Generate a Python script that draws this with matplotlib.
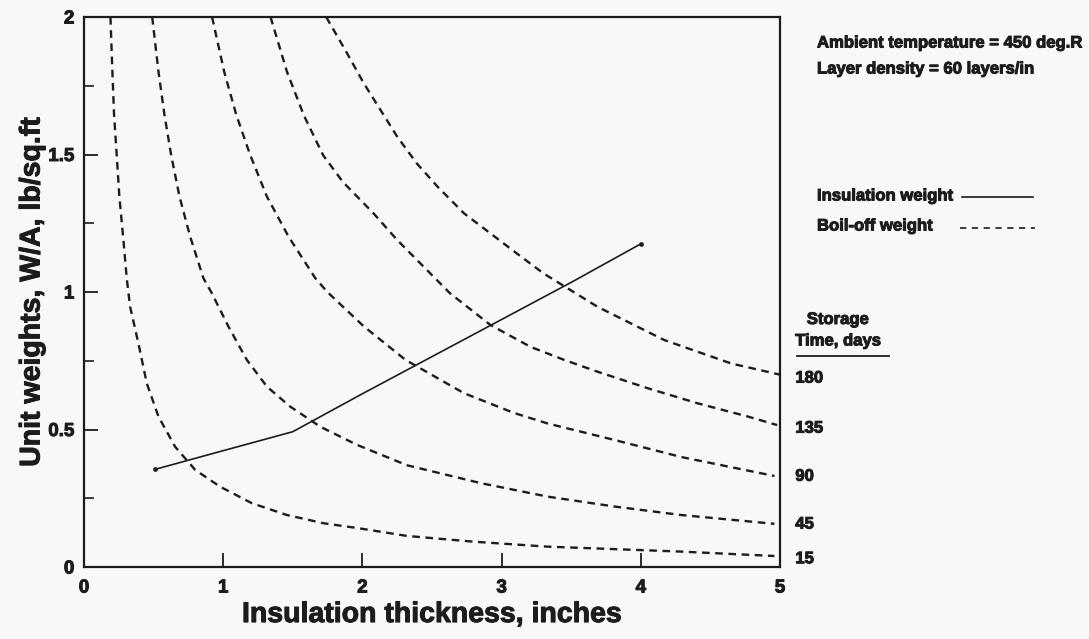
import matplotlib
matplotlib.use("Agg")
import matplotlib.pyplot as plt
from matplotlib.ticker import MultipleLocator, FuncFormatter
from matplotlib.lines import Line2D
import matplotlib.patheffects as pe

plt.rcParams['font.family'] = ['Liberation Sans', 'DejaVu Sans']
plt.rcParams['lines.scale_dashes'] = False

# Insulation weight (solid line)
ins_x = [0.51, 1.0, 1.5, 2.0, 2.5, 3.0, 3.5, 4.0]
ins_y = [0.355, 0.423, 0.492, 0.63, 0.765, 0.90, 1.035, 1.175]

# Boil-off weight curves, by storage time (days)
storage_days = [15, 45, 90, 135, 180]
boil_x = {
    15:  [0.19, 0.204, 0.216, 0.235, 0.254, 0.281, 0.307, 0.331, 0.391, 0.451,
          0.535, 0.655, 0.799, 0.978, 1.206, 1.458, 1.722, 1.973, 2.32, 2.8,
          3.33, 4.29, 4.96],
    45:  [0.49, 0.535, 0.578, 0.626, 0.686, 0.763, 0.858, 0.919, 1.038, 1.17,
          1.314, 1.482, 1.698, 1.962, 2.32, 2.85, 3.33, 3.81, 4.29, 4.96],
    90:  [0.92, 1.007, 1.094, 1.194, 1.314, 1.47, 1.662, 1.746, 2.01, 2.31,
          2.73, 3.09, 3.33, 3.81, 4.29, 4.96],
    135: [1.34, 1.458, 1.578, 1.717, 1.86, 2.08, 2.25, 2.44, 2.63, 2.92, 3.21,
          3.45, 3.69, 4.05, 4.41, 4.77, 4.98],
    180: [1.74, 1.89, 2.01, 2.13, 2.25, 2.39, 2.54, 2.73, 2.92, 3.11, 3.30,
          3.69, 4.17, 4.65, 4.995],
}
boil_y = {
    15:  [2.0, 1.80, 1.644, 1.498, 1.347, 1.201, 1.05, 0.947, 0.813, 0.668,
          0.547, 0.437, 0.353, 0.292, 0.232, 0.189, 0.159, 0.141, 0.113, 0.092,
          0.074, 0.056, 0.04],
    45:  [2.0, 1.801, 1.644, 1.498, 1.347, 1.201, 1.05, 0.995, 0.874, 0.753,
          0.656, 0.583, 0.51, 0.444, 0.37, 0.305, 0.256, 0.22, 0.189, 0.157],
    90:  [2.0, 1.801, 1.644, 1.498, 1.347, 1.201, 1.05, 1.001, 0.875, 0.753,
          0.632, 0.56, 0.522, 0.462, 0.40, 0.331],
    135: [2.0, 1.801, 1.644, 1.498, 1.40, 1.286, 1.189, 1.092, 0.995, 0.88, 0.80,
          0.753, 0.71, 0.65, 0.595, 0.547, 0.516],
    180: [2.0, 1.868, 1.759, 1.662, 1.565, 1.468, 1.383, 1.286, 1.213, 1.14, 1.068,
          0.946, 0.825, 0.74, 0.70],
}
label_y = {15: 0.03, 45: 0.156, 90: 0.33, 135: 0.505, 180: 0.687}

x_ticks = [0, 1, 2, 3, 4, 5]
y_ticks = [0, 0.5, 1, 1.5, 2]

ink = '#1c1c1c'
bg = '#f8f8f8'
heavy = [pe.withStroke(linewidth=0.7, foreground=ink)]

fig = plt.figure(figsize=(10.89, 6.39), dpi=100, facecolor=bg)
ax = fig.add_axes([84/1089, 1-567/639, 696/1089, 550/639], facecolor=bg)

ax.plot(ins_x, ins_y, color=ink, lw=1.2, marker='o', markersize=2.4,
        markevery=[0, len(ins_x)-1], solid_capstyle='round')
for d in storage_days:
    ax.plot(boil_x[d], boil_y[d], color=ink, lw=1.7, dashes=(5.5, 4.0))

ax.set_xlim(0, 5)
ax.set_ylim(0, 2)
ax.set_xticks(x_ticks)
ax.set_yticks(y_ticks)
ax.yaxis.set_minor_locator(MultipleLocator(0.25))
fmt = FuncFormatter(lambda v, p: ('%g' % v))
ax.xaxis.set_major_formatter(fmt)
ax.yaxis.set_major_formatter(fmt)
ax.tick_params(axis='both', which='major', direction='in', length=10, width=1.3,
               colors=ink, labelsize=13.5, pad=7)
ax.tick_params(axis='y', which='minor', direction='in', length=7, width=1.2, colors=ink)
ax.tick_params(axis='x', pad=9)
for lab in ax.get_xticklabels() + ax.get_yticklabels():
    lab.set_fontweight('bold')
    lab.set_path_effects(heavy)
for s in ax.spines.values():
    s.set_linewidth(1.6)
    s.set_color(ink)

ax.set_xlabel('Insulation thickness, inches', fontsize=20.5, fontweight='bold',
              color=ink, labelpad=4, path_effects=heavy)
ax.set_ylabel('Unit weights, W/A, lb/sq.ft', fontsize=20.5, fontweight='bold',
              color=ink, labelpad=2, path_effects=heavy)

# Storage time labels at the right
small = dict(fontsize=12, fontweight='bold', color=ink, path_effects=heavy)
for d in storage_days:
    ax.text(5.11, label_y[d], str(d), va='center', ha='left', **small)
ax.text(5.415, 0.90, 'Storage', ha='center', va='center', **small)
ax.text(5.415, 0.822, 'Time, days', ha='center', va='center', **small)
ax.add_line(Line2D([5.12, 5.785], [0.767, 0.767], color=ink, lw=1.3, clip_on=False))

# Notes and legend
for txt, ypx in [('Ambient temperature = 450 deg.R', 43),
                 ('Layer density = 60 layers/in', 69),
                 ('Insulation weight', 196),
                 ('Boil-off weight', 226)]:
    fig.text(817/1089, 1-ypx/639, txt, va='center', **small)
fig.add_artist(Line2D([962/1089, 1033/1089], [1-197/639, 1-197/639],
                      color=ink, lw=1.2, transform=fig.transFigure))
fig.add_artist(Line2D([960/1089, 1035/1089], [1-228/639, 1-228/639],
                      color=ink, lw=1.2, dashes=(4.5, 4.0), transform=fig.transFigure))

fig.savefig('out.png', dpi=100, facecolor=bg)
